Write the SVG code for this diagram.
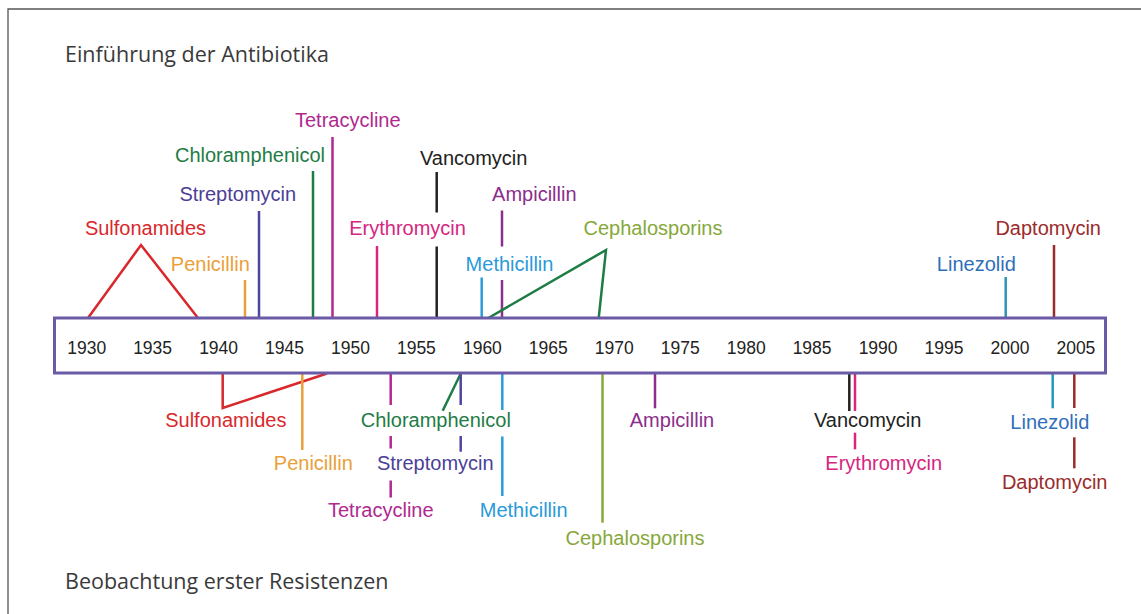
<svg xmlns="http://www.w3.org/2000/svg" width="1141" height="614" viewBox="0 0 1141 614">
<style>
.t{font-family:"Liberation Sans",Arial,sans-serif;font-size:20px;text-anchor:middle}
.yr{font-family:"Liberation Sans",Arial,sans-serif;font-size:17.5px;fill:#222;text-anchor:middle}
.ttl{font-family:"Open Sans","Noto Sans",sans-serif;font-size:21.5px;fill:#3a3a3a}
.c line,.c polyline{stroke-width:2.5;fill:none}
.red{fill:#d8282c}.sred{stroke:#d8282c}
.ora{fill:#e9a03a}.sora{stroke:#e9a03a}
.str{fill:#4b3f97}.sstr{stroke:#4f459c}
.chl{fill:#1e7c45}.schl{stroke:#1e7c45}
.tet{fill:#b0298f}.stet{stroke:#b0298f}
.ery{fill:#d62680}.sery{stroke:#d62680}
.van{fill:#222}.svan{stroke:#222}
.amp{fill:#8b2e8c}.samp{stroke:#8b2e8c}
.met{fill:#2a9ad8}.smet{stroke:#2a9ad8}
.cep{fill:#86a83a}.scep{stroke:#86a83a}
.lin{fill:#2f6fba}.slin{stroke:#2a94b8}
.dap{fill:#9b2b2b}.sdap{stroke:#9b2b2b}
</style>
<rect width="1141" height="614" fill="#fff"/>
<path d="M8,614 V9 H1141" fill="none" stroke="#555" stroke-width="1.3"/>
<g id="title-top"><text class="ttl" x="65" y="62">Einführung der Antibiotika</text></g>
<g id="title-bottom"><text class="ttl" x="65" y="589">Beobachtung erster Resistenzen</text></g>

<g id="connectors" class="c">
<!-- top -->
<polyline class="sred" points="88,318 141,245 198,318"/>
<line class="sora" x1="245" y1="280" x2="245" y2="318"/>
<line class="sstr" x1="259" y1="211" x2="259" y2="321"/>
<line class="schl" x1="313" y1="171" x2="313" y2="318"/>
<line class="stet" x1="332.5" y1="137" x2="332.5" y2="318"/>
<line class="sery" x1="377" y1="246" x2="377" y2="318"/>
<line class="svan" x1="436.7" y1="172" x2="436.7" y2="212.5"/>
<line class="svan" x1="436.7" y1="246.5" x2="436.7" y2="318"/>
<line class="samp" x1="502" y1="210.5" x2="502" y2="246.5"/>
<line class="samp" x1="502" y1="280" x2="502" y2="318"/>
<line class="smet" x1="481.7" y1="277.5" x2="481.7" y2="320"/>
<polyline class="schl" points="487.5,318.5 606,250 598.7,318"/>
<line class="slin" x1="1005.7" y1="277" x2="1005.7" y2="318"/>
<line class="sdap" x1="1054" y1="245" x2="1054" y2="318"/>
<!-- bottom -->
<polyline class="sred" points="222.7,373 222.7,408 327,373.5"/>
<line class="sora" x1="302.3" y1="373" x2="302.3" y2="450"/>
<line class="stet" x1="390.7" y1="373" x2="390.7" y2="405"/>
<line class="stet" x1="390.7" y1="436" x2="390.7" y2="448.5"/>
<line class="stet" x1="390.7" y1="480.5" x2="390.7" y2="497.5"/>
<line class="schl" x1="461" y1="373" x2="442.7" y2="410.7"/>
<line class="sstr" x1="460.7" y1="373" x2="460.7" y2="405"/>
<line class="sstr" x1="460.7" y1="436" x2="460.7" y2="451.7"/>
<line class="smet" x1="502.3" y1="373" x2="502.3" y2="410"/>
<line class="smet" x1="502.3" y1="436.5" x2="502.3" y2="496"/>
<line class="scep" x1="602.5" y1="373" x2="602.5" y2="522.7"/>
<line class="samp" x1="655" y1="373" x2="655" y2="408.3"/>
<line class="svan" x1="849.3" y1="373" x2="849.3" y2="411"/>
<line class="sery" x1="855" y1="373" x2="855" y2="411"/>
<line class="sery" x1="855" y1="432.7" x2="855" y2="449.3"/>
<line class="slin" x1="1052.7" y1="373" x2="1052.7" y2="408.3"/>
<line class="sdap" x1="1074.3" y1="373" x2="1074.3" y2="408"/>
<line class="sdap" x1="1074.3" y1="437.3" x2="1074.3" y2="468.3"/>
</g>

<g id="timeline">
<rect x="54.5" y="318" width="1051" height="55" fill="#fff" stroke="#6b5aa6" stroke-width="3"/>
<text class="yr" x="86.7" y="354">1930</text>
<text class="yr" x="152.6" y="354">1935</text>
<text class="yr" x="218.6" y="354">1940</text>
<text class="yr" x="284.5" y="354">1945</text>
<text class="yr" x="350.5" y="354">1950</text>
<text class="yr" x="416.4" y="354">1955</text>
<text class="yr" x="482.4" y="354">1960</text>
<text class="yr" x="548.3" y="354">1965</text>
<text class="yr" x="614.3" y="354">1970</text>
<text class="yr" x="680.2" y="354">1975</text>
<text class="yr" x="746.2" y="354">1980</text>
<text class="yr" x="812.1" y="354">1985</text>
<text class="yr" x="878.1" y="354">1990</text>
<text class="yr" x="944" y="354">1995</text>
<text class="yr" x="1010" y="354">2000</text>
<text class="yr" x="1075.9" y="354">2005</text>
</g>

<g id="intro-sulfonamides"><text class="t red" x="145.5" y="235">Sulfonamides</text></g>
<g id="intro-penicillin"><text class="t ora" x="210.3" y="271">Penicillin</text></g>
<g id="intro-streptomycin"><text class="t str" x="237.8" y="201">Streptomycin</text></g>
<g id="intro-chloramphenicol"><text class="t chl" x="250" y="162">Chloramphenicol</text></g>
<g id="intro-tetracycline"><text class="t tet" x="347.8" y="127">Tetracycline</text></g>
<g id="intro-erythromycin"><text class="t ery" x="407.6" y="235">Erythromycin</text></g>
<g id="intro-vancomycin"><text class="t van" x="473.7" y="165">Vancomycin</text></g>
<g id="intro-ampicillin"><text class="t amp" x="534.3" y="201">Ampicillin</text></g>
<g id="intro-methicillin"><text class="t met" x="509.5" y="271">Methicillin</text></g>
<g id="intro-cephalosporins"><text class="t cep" x="653" y="235">Cephalosporins</text></g>
<g id="intro-linezolid"><text class="t lin" x="976.3" y="271">Linezolid</text></g>
<g id="intro-daptomycin"><text class="t dap" x="1048.2" y="235">Daptomycin</text></g>

<g id="res-sulfonamides"><text class="t red" x="225.8" y="427">Sulfonamides</text></g>
<g id="res-penicillin"><text class="t ora" x="313.3" y="470">Penicillin</text></g>
<g id="res-tetracycline"><text class="t tet" x="380.8" y="517">Tetracycline</text></g>
<g id="res-chloramphenicol"><text class="t chl" x="435.8" y="427">Chloramphenicol</text></g>
<g id="res-streptomycin"><text class="t str" x="435.3" y="470">Streptomycin</text></g>
<g id="res-methicillin"><text class="t met" x="523.7" y="517">Methicillin</text></g>
<g id="res-cephalosporins"><text class="t cep" x="635" y="545">Cephalosporins</text></g>
<g id="res-ampicillin"><text class="t amp" x="672" y="427">Ampicillin</text></g>
<g id="res-vancomycin"><text class="t van" x="867.7" y="427">Vancomycin</text></g>
<g id="res-erythromycin"><text class="t ery" x="883.7" y="470">Erythromycin</text></g>
<g id="res-linezolid"><text class="t lin" x="1049.8" y="429">Linezolid</text></g>
<g id="res-daptomycin"><text class="t dap" x="1054.7" y="489">Daptomycin</text></g>
</svg>
